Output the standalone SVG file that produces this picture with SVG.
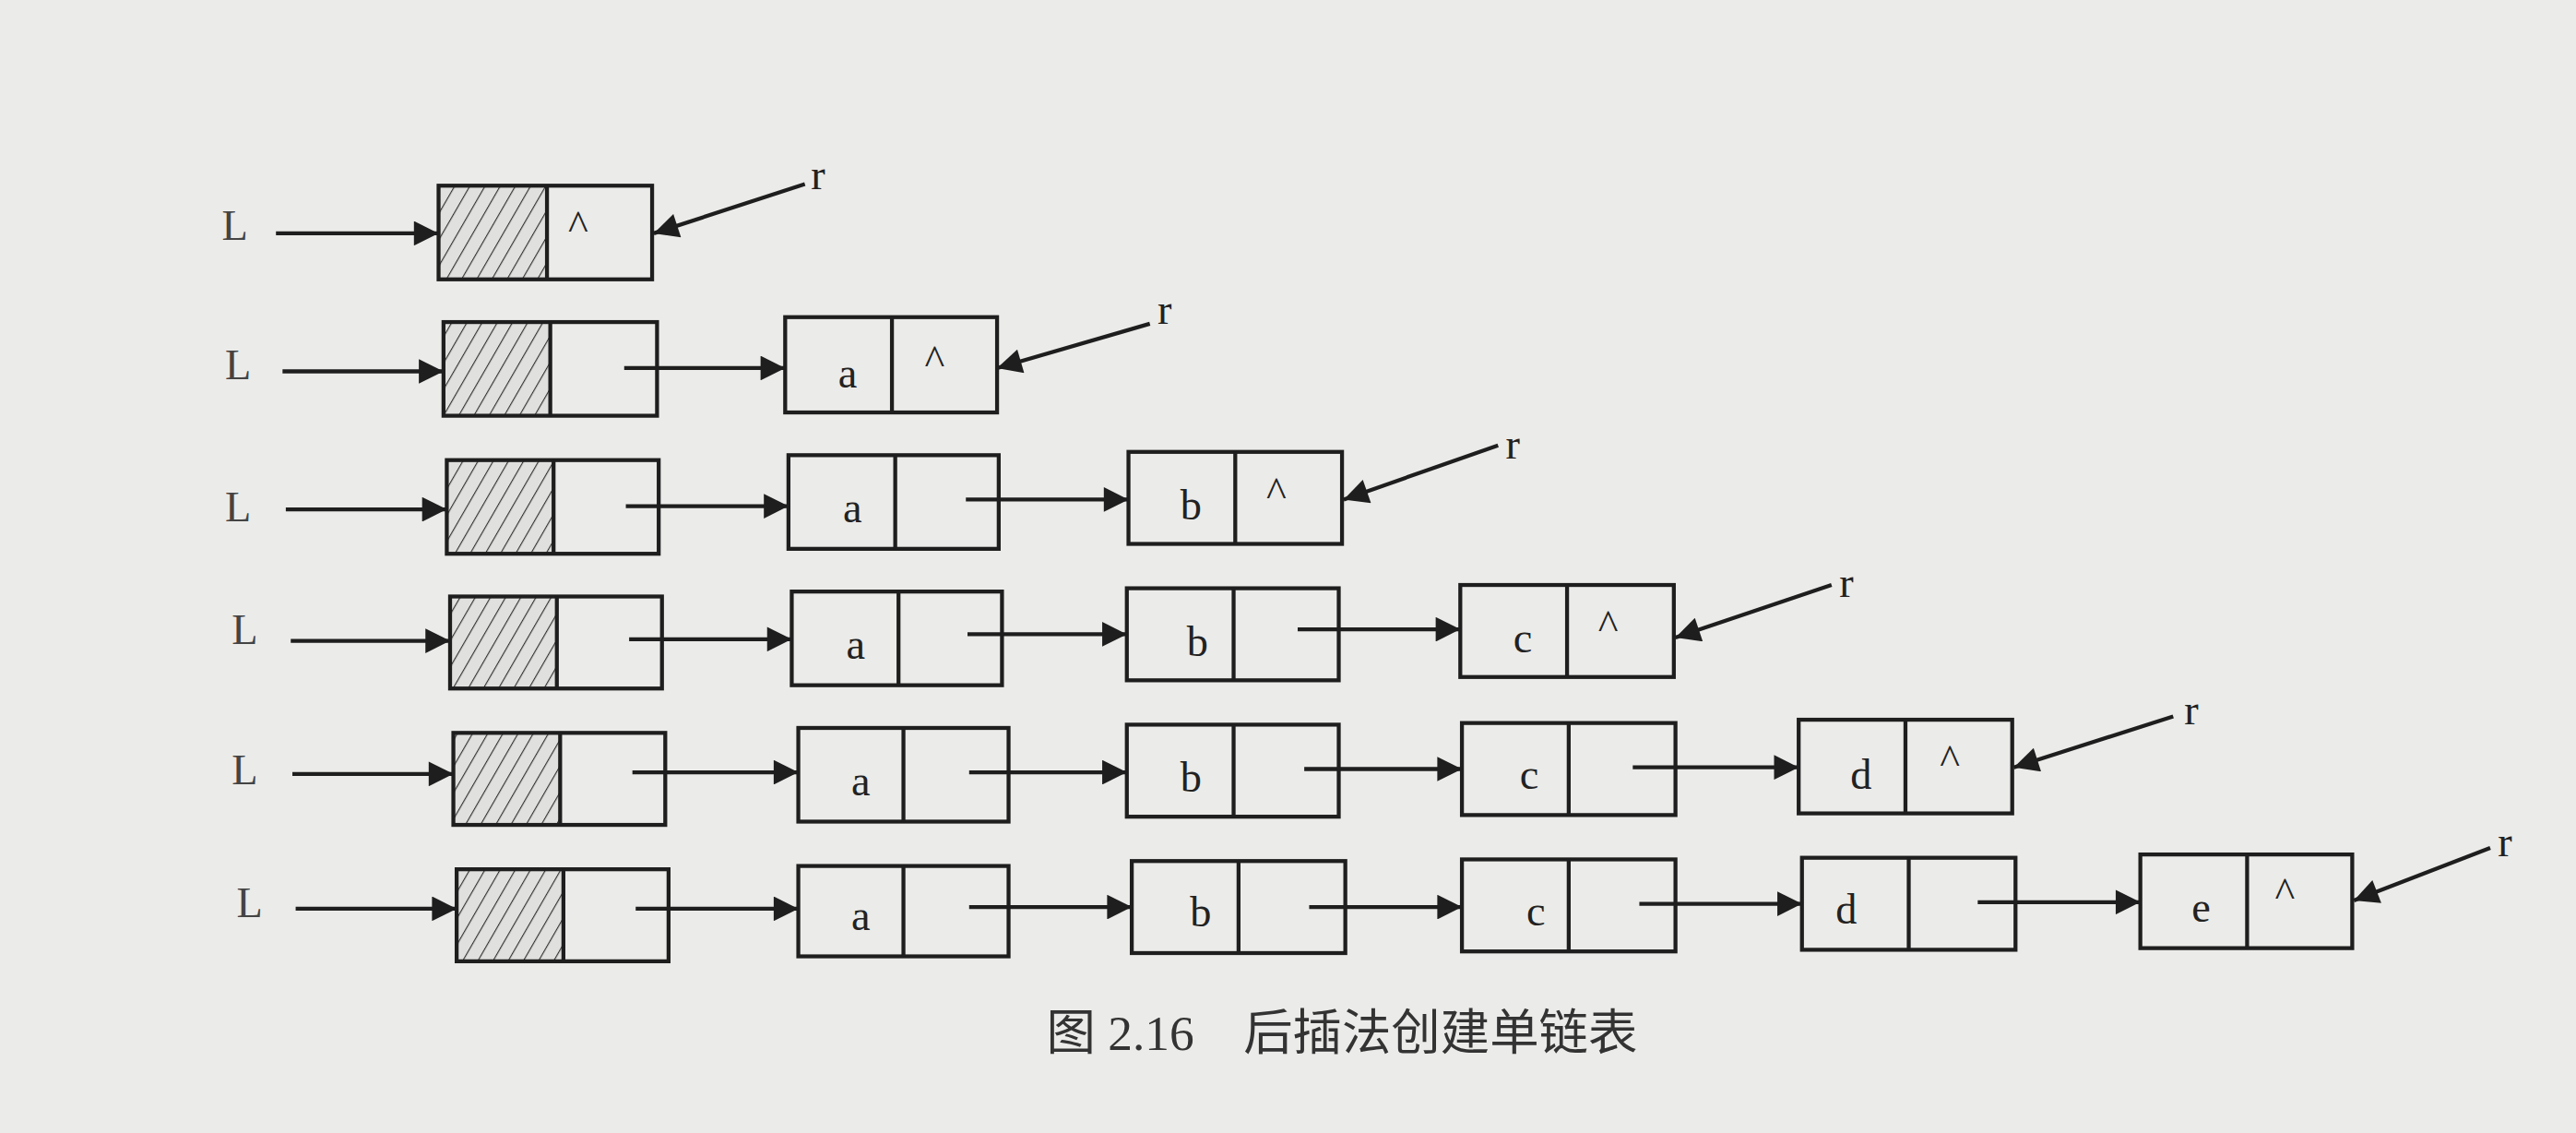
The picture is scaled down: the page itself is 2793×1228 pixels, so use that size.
<svg xmlns="http://www.w3.org/2000/svg" width="2793" height="1228" viewBox="0 0 2793 1228">
<style>
.bx{fill:none;stroke:#1e1e1e;stroke-width:2.4}
.hd{fill:url(#h)}
.ln{stroke:#1e1e1e;stroke-width:2.4;fill:none}
.t{font-family:"Liberation Serif",serif;font-size:26px;fill:#222;text-anchor:middle}
.L{font-family:"Liberation Serif",serif;font-size:26px;fill:#444;text-anchor:middle}
.cap{font-family:"Liberation Serif","Noto Sans CJK SC",serif;font-size:30px;fill:#333}
</style>
<defs>
<pattern id="h" width="8" height="8" patternUnits="userSpaceOnUse" patternTransform="rotate(30)">
<rect width="8" height="8" fill="#e0e0de"/><line x1="0" y1="0" x2="0" y2="8" stroke="#333" stroke-width="1.3"/>
</pattern>
<marker id="a" viewBox="0 0 10 10" refX="10" refY="5" markerWidth="20" markerHeight="15" markerUnits="userSpaceOnUse" orient="auto"><path d="M0,0L10,5L0,10z" fill="#1e1e1e"/></marker>
</defs>
<rect width="2793" height="1228" fill="#ebebe9"/>
<g transform="scale(1.781)">
<g id="labels">
<text class="L" x="143" y="146">L</text><text class="L" x="145" y="231">L</text><text class="L" x="145" y="317">L</text>
<text class="L" x="149" y="392">L</text><text class="L" x="149" y="477">L</text><text class="L" x="152" y="558">L</text>
<text class="t" x="498" y="115">r</text><text class="t" x="709" y="197">r</text><text class="t" x="921" y="279">r</text>
<text class="t" x="1124" y="363">r</text><text class="t" x="1334" y="441">r</text><text class="t" x="1525" y="521">r</text>
</g>
<g id="connectors" class="ln" marker-end="url(#a)">
<line x1="168" y1="142" x2="267" y2="142"/><line x1="490" y1="112" x2="398" y2="142"/>
<line x1="172" y1="226" x2="270" y2="226"/><line x1="380" y1="224" x2="478" y2="224"/><line x1="700" y1="197" x2="607" y2="224"/>
<line x1="174" y1="310" x2="272" y2="310"/><line x1="381" y1="308" x2="480" y2="308"/><line x1="588" y1="304" x2="687" y2="304"/><line x1="912" y1="271" x2="818" y2="304"/>
<line x1="177" y1="390" x2="274" y2="390"/><line x1="383" y1="389" x2="482" y2="389"/><line x1="589" y1="386" x2="686" y2="386"/><line x1="790" y1="383" x2="889" y2="383"/><line x1="1115" y1="356" x2="1020" y2="388"/>
<line x1="178" y1="471" x2="276" y2="471"/><line x1="385" y1="470" x2="486" y2="470"/><line x1="590" y1="470" x2="686" y2="470"/><line x1="794" y1="468" x2="890" y2="468"/><line x1="994" y1="467" x2="1095" y2="467"/><line x1="1323" y1="436" x2="1226" y2="467"/>
<line x1="180" y1="553" x2="278" y2="553"/><line x1="387" y1="553" x2="486" y2="553"/><line x1="590" y1="552" x2="689" y2="552"/><line x1="797" y1="552" x2="890" y2="552"/><line x1="998" y1="550" x2="1097" y2="550"/><line x1="1204" y1="549" x2="1303" y2="549"/><line x1="1516" y1="516" x2="1433" y2="548"/>
</g>
<g id="r1"><g id="h1"><rect class="hd" x="267" y="113" width="66" height="57"/><rect class="bx" x="267" y="113" width="130" height="57"/><line class="bx" x1="333" y1="113" x2="333" y2="170"/><text class="t" x="352" y="146">^</text></g></g>
<g id="r2">
<g id="h2"><rect class="hd" x="270" y="196" width="65" height="57"/><rect class="bx" x="270" y="196" width="130" height="57"/><line class="bx" x1="335" y1="196" x2="335" y2="253"/></g>
<g id="n2a"><rect class="bx" x="478" y="193" width="129" height="58"/><line class="bx" x1="543" y1="193" x2="543" y2="251"/><text class="t" x="516" y="236">a</text><text class="t" x="569" y="228">^</text></g>
</g>
<g id="r3">
<g id="h3"><rect class="hd" x="272" y="280" width="65" height="57"/><rect class="bx" x="272" y="280" width="129" height="57"/><line class="bx" x1="337" y1="280" x2="337" y2="337"/></g>
<g id="n3a"><rect class="bx" x="480" y="277" width="128" height="57"/><line class="bx" x1="545" y1="277" x2="545" y2="334"/><text class="t" x="519" y="318">a</text></g>
<g id="n3b"><rect class="bx" x="687" y="275" width="130" height="56"/><line class="bx" x1="752" y1="275" x2="752" y2="331"/><text class="t" x="725" y="316">b</text><text class="t" x="777" y="308">^</text></g>
</g>
<g id="r4">
<g id="h4"><rect class="hd" x="274" y="363" width="65" height="56"/><rect class="bx" x="274" y="363" width="129" height="56"/><line class="bx" x1="339" y1="363" x2="339" y2="419"/></g>
<g id="n4a"><rect class="bx" x="482" y="360" width="128" height="57"/><line class="bx" x1="547" y1="360" x2="547" y2="417"/><text class="t" x="521" y="401">a</text></g>
<g id="n4b"><rect class="bx" x="686" y="358" width="129" height="56"/><line class="bx" x1="751" y1="358" x2="751" y2="414"/><text class="t" x="729" y="399">b</text></g>
<g id="n4c"><rect class="bx" x="889" y="356" width="130" height="56"/><line class="bx" x1="954" y1="356" x2="954" y2="412"/><text class="t" x="927" y="397">c</text><text class="t" x="979" y="389">^</text></g>
</g>
<g id="r5">
<g id="h5"><rect class="hd" x="276" y="446" width="65" height="56"/><rect class="bx" x="276" y="446" width="129" height="56"/><line class="bx" x1="341" y1="446" x2="341" y2="502"/></g>
<g id="n5a"><rect class="bx" x="486" y="443" width="128" height="57"/><line class="bx" x1="550" y1="443" x2="550" y2="500"/><text class="t" x="524" y="484">a</text></g>
<g id="n5b"><rect class="bx" x="686" y="441" width="129" height="56"/><line class="bx" x1="751" y1="441" x2="751" y2="497"/><text class="t" x="725" y="482">b</text></g>
<g id="n5c"><rect class="bx" x="890" y="440" width="130" height="56"/><line class="bx" x1="955" y1="440" x2="955" y2="496"/><text class="t" x="931" y="480">c</text></g>
<g id="n5d"><rect class="bx" x="1095" y="438" width="130" height="57"/><line class="bx" x1="1160" y1="438" x2="1160" y2="495"/><text class="t" x="1133" y="480">d</text><text class="t" x="1187" y="471">^</text></g>
</g>
<g id="r6">
<g id="h6"><rect class="hd" x="278" y="529" width="65" height="56"/><rect class="bx" x="278" y="529" width="129" height="56"/><line class="bx" x1="343" y1="529" x2="343" y2="585"/></g>
<g id="n6a"><rect class="bx" x="486" y="527" width="128" height="55"/><line class="bx" x1="550" y1="527" x2="550" y2="582"/><text class="t" x="524" y="566">a</text></g>
<g id="n6b"><rect class="bx" x="689" y="524" width="130" height="56"/><line class="bx" x1="754" y1="524" x2="754" y2="580"/><text class="t" x="731" y="564">b</text></g>
<g id="n6c"><rect class="bx" x="890" y="523" width="130" height="56"/><line class="bx" x1="955" y1="523" x2="955" y2="579"/><text class="t" x="935" y="563">c</text></g>
<g id="n6d"><rect class="bx" x="1097" y="522" width="130" height="56"/><line class="bx" x1="1162" y1="522" x2="1162" y2="578"/><text class="t" x="1124" y="562">d</text></g>
<g id="n6e"><rect class="bx" x="1303" y="520" width="129" height="57"/><line class="bx" x1="1368" y1="520" x2="1368" y2="577"/><text class="t" x="1340" y="561">e</text><text class="t" x="1391" y="552">^</text></g>
</g>
<text class="cap" x="637" y="639">图 2.16<tspan dx="30">后插法创建单链表</tspan></text>
</g>
</svg>
